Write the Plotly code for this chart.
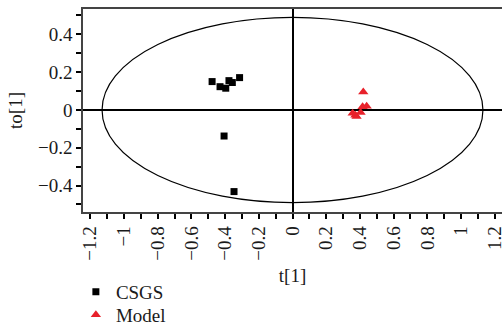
import plotly.graph_objects as go

# OPLS-DA score plot: predictive component t[1] vs orthogonal component to[1]
csgs_t = [-0.477, -0.430, -0.396, -0.377, -0.357, -0.314, -0.406, -0.347]
csgs_to = [0.150, 0.123, 0.115, 0.155, 0.145, 0.171, -0.138, -0.432]

model_t = [0.420, 0.440, 0.416, 0.404, 0.357, 0.373, 0.380]
model_to = [0.095, 0.020, 0.017, -0.014, -0.018, -0.028, -0.035]

# Hotelling's T2 ellipse semi-axes
ellipse_a = 1.13
ellipse_b = 0.49

x_ticks = [-1.2, -1, -0.8, -0.6, -0.4, -0.2, 0, 0.2, 0.4, 0.6, 0.8, 1, 1.2]
y_ticks = [-0.4, -0.2, 0, 0.2, 0.4]

FONT = "Liberation Serif"
FS = 19
TXT = "#1a1a1a"

fig = go.Figure()
fig.add_trace(go.Scatter(
    x=csgs_t, y=csgs_to, mode="markers", name="CSGS", legend="legend",
    marker=dict(symbol="square", size=7, color="black"),
))
fig.add_trace(go.Scatter(
    x=model_t, y=model_to, mode="markers", name="Model", legend="legend2",
    marker=dict(symbol="triangle-up", size=9, color="#e8212a"),
))

fig.add_shape(type="circle", xref="x", yref="y",
              x0=-ellipse_a, x1=ellipse_a, y0=-ellipse_b, y1=ellipse_b,
              line=dict(color="black", width=1.2), layer="below")

axis_common = dict(
    showgrid=False, zeroline=True, zerolinecolor="black", zerolinewidth=2,
    showline=True, linecolor="#444", linewidth=1.5, mirror=True,
    ticks="outside", ticklen=5, tickwidth=1.5, tickcolor="black",
    tickfont=dict(family=FONT, size=FS, color=TXT),
    automargin=False, ticklabeloverflow="allow",
)

fig.update_xaxes(
    range=[-1.243, 1.243], tickvals=x_ticks,
    ticktext=[f"{v:g}".replace("-", "\u2212") for v in x_ticks],
    tickangle=-90,
    minor=dict(dtick=0.1, tick0=0, ticks="outside", ticklen=5, tickwidth=1.5, tickcolor="black"),
    title=dict(text="t[1]", font=dict(family=FONT, size=FS, color=TXT), standoff=9),
    **axis_common,
)
fig.update_yaxes(
    range=[-0.54, 0.534], tickvals=y_ticks,
    ticktext=[f"{v:g}".replace("-", "\u2212") for v in y_ticks],
    minor=dict(dtick=0.1, tick0=0, ticks="outside", ticklen=5, tickwidth=1.5, tickcolor="black"),
    title=dict(text="to[1]", font=dict(family=FONT, size=FS, color=TXT), standoff=10),
    **axis_common,
)

legend_common = dict(
    xref="paper", yref="paper", xanchor="left", yanchor="top",
    font=dict(family=FONT, size=FS, color=TXT),
    itemsizing="trace", bgcolor="rgba(0,0,0,0)",
)

fig.update_layout(
    width=502, height=330,
    margin=dict(l=83, r=0, t=9, b=118, autoexpand=False),
    paper_bgcolor="white", plot_bgcolor="white",
    showlegend=True,
    legend=dict(x=-0.017, y=-0.300, **legend_common),
    legend2=dict(x=-0.017, y=-0.413, **legend_common),
)

fig.write_html("out.html")
